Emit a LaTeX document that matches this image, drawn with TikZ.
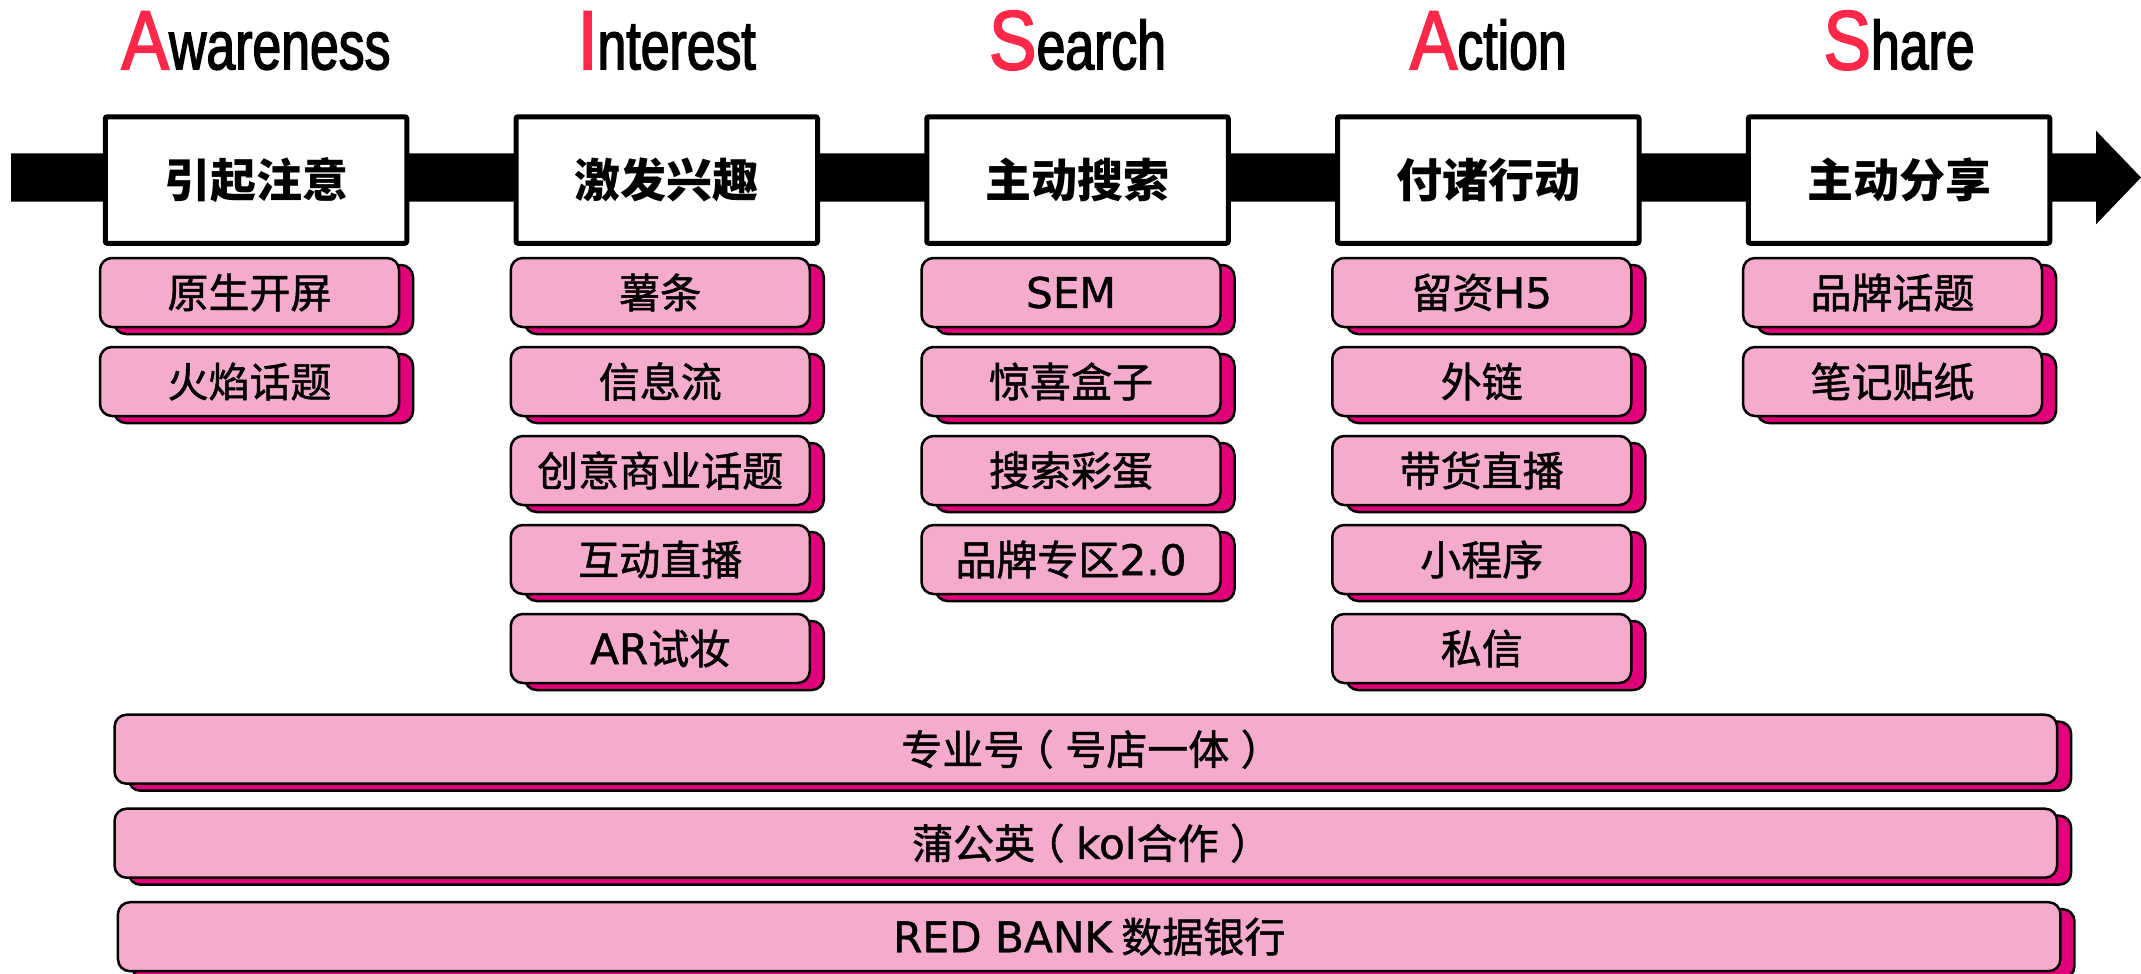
\documentclass[tikz,border=0pt]{standalone}
\usepackage{fontspec}
\newfontfamily\cjk[FakeBold=1.2]{Noto Sans CJK SC}
\newfontfamily\cjkh{Noto Sans CJK SC}
\newfontfamily\latf[Scale=1.03,FakeBold=1]{DejaVu Sans}
\newfontfamily\tfA[FakeStretch=0.85,FakeBold=2]{Liberation Sans}
\newfontfamily\tfB[FakeStretch=0.75,FakeBold=2]{Liberation Sans}
\newcommand\mylp{\kern-0.28em（\kern0.28em}
\newcommand\myrp{\kern0.28em）\kern-0.28em}
\newcommand\lat[1]{{\latf #1}}
\usetikzlibrary{shadows}
\definecolor{pinkfill}{RGB}{244,171,204}
\definecolor{pinkshadow}{RGB}{226,0,122}
\definecolor{tred}{RGB}{255,40,72}
\begin{document}
\begin{tikzpicture}[x=1pt,y=-1pt,
  hdrbox/.style={draw=black, line width=5pt, fill=white, rounded corners=2pt,
    minimum width=301.5pt, minimum height=126.5pt, inner sep=0pt,
    font=\cjkh\bfseries\fontsize{46pt}{46pt}\selectfont},
  itembox/.style={draw=black, line width=2.5pt, fill=pinkfill, rounded corners=12pt,
    minimum width=299pt, minimum height=69pt, inner sep=0pt,
    font=\cjk\fontsize{41pt}{41pt}\selectfont,
    general shadow={fill=pinkshadow, draw=black, line width=2.5pt,
      shadow xshift=14pt, shadow yshift=-7pt}},
  barbox/.style={itembox, minimum width=1942.5pt},
  titlenode/.style={anchor=base, inner sep=0pt}
]
\useasboundingbox (0,0) rectangle (2141,974);

% timeline arrow
\coordinate (arrowstart) at (11,177.5);
\coordinate (arrowtip) at (2141,177.5);
\fill[black] (11,153.3) -- (2096,153.3) -- (2096,130.7) -- (arrowtip)
  -- (2096,224.3) -- (2096,201.7) -- (11,201.7) -- cycle;

% titles
\foreach \i/\first/\rest in {0/A/wareness, 1/I/nterest, 2/S/earch, 3/A/ction, 4/S/hare} {
  \node[titlenode] (t\i) at ({256+410.75*\i},69.3)
    {{\tfA\fontsize{84pt}{84pt}\selectfont\color{tred}\first}{\tfB\fontsize{69pt}{69pt}\selectfont\rest}};
}

% stage headers
\foreach \i/\txt in {0/引起注意, 1/激发兴趣, 2/主动搜索, 3/付诸行动, 4/主动分享} {
  \node[hdrbox] (h\i) at ({256+410.75*\i},180) {\txt};
}

% column items
\foreach \c/\r/\txt in {
  0/0/原生开屏, 0/1/火焰话题,
  1/0/薯条, 1/1/信息流, 1/2/创意商业话题, 1/3/互动直播, 1/4/\lat{AR}试妆,
  2/0/\lat{SEM}, 2/1/惊喜盒子, 2/2/搜索彩蛋, 2/3/品牌专区\lat{2.0},
  3/0/留资\lat{H5}, 3/1/外链, 3/2/带货直播, 3/3/小程序, 3/4/私信,
  4/0/品牌话题, 4/1/笔记贴纸} {
  \node[itembox] (i\c\r) at ({249.5+410.75*\c},{292.5+89*\r}) {\txt};
}

% bottom bars
\node[barbox] (b1) at (1085.8,749.2) {专业号\mylp 号店一体\myrp};
\node[barbox] (b2) at (1085.8,843.2) {蒲公英\mylp\lat{kol}合作\myrp};
\node[barbox] (b3) at (1089.2,936.7) {\lat{RED BANK} 数据银行};
\end{tikzpicture}
\end{document}
